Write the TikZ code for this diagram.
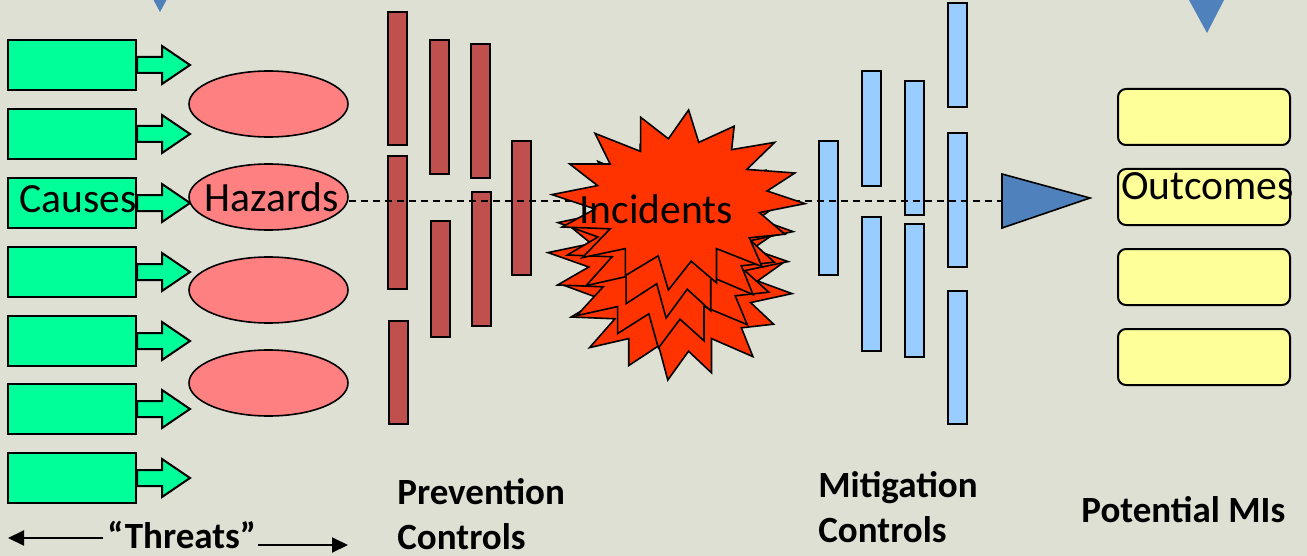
\documentclass[tikz,border=0pt]{standalone}
\usepackage{fontspec}
\setmainfont{Carlito}
\usetikzlibrary{shapes.geometric, arrows.meta, positioning}

\definecolor{bgcol}{RGB}{221,224,211}
\definecolor{threatgreen}{RGB}{0,255,153}
\definecolor{hazardpink}{RGB}{255,128,128}
\definecolor{prevred}{RGB}{192,80,77}
\definecolor{mitblue}{RGB}{153,204,255}
\definecolor{outyellow}{RGB}{255,255,153}
\definecolor{burstred}{RGB}{255,51,0}
\definecolor{pointblue}{RGB}{79,129,189}

\begin{document}
\begin{tikzpicture}[
    x=0.5pt, y=-0.5pt,
    threat/.style={draw, fill=threatgreen, minimum width=64pt, minimum height=25pt, inner sep=0pt, line width=1pt},
    threatarrow/.style={draw, fill=threatgreen, line width=1pt},
    hazard/.style={draw, fill=hazardpink, ellipse, minimum width=79.5pt, minimum height=33pt, inner sep=0pt, line width=0.8pt},
    pbar/.style={draw, fill=prevred, minimum width=9.5pt, inner sep=0pt, line width=1pt},
    mbar/.style={draw, fill=mitblue, minimum width=9.5pt, inner sep=0pt, line width=1pt},
    outcome/.style={draw, fill=outyellow, rounded corners=4pt, minimum width=86pt, minimum height=28pt, inner sep=0pt, line width=1pt},
    bigtext/.style={font=\fontsize{20.8}{25}\selectfont, inner sep=0pt},
    caption/.style={font=\bfseries\fontsize{18.5}{22.5}\selectfont, align=left, inner sep=0pt},
    span/.style={line width=1pt, -{Triangle[length=8pt,width=7.5pt]}},
    burst/.pic={
        \filldraw[fill=burstred, line width=0.8pt]
            (54,0) -- (58,18) -- (72,9) -- (71,22) -- (88,18) -- (77,33) -- (96,35) -- (85,45)
            -- (100,52) -- (82,57) -- (92,69) -- (78,71) -- (83,87) -- (65,77) -- (65,96) -- (55,84)
            -- (46,100) -- (42,81) -- (29,92) -- (29,77) -- (12,82) -- (23,66) -- (4,65) -- (17,55)
            -- (0,47) -- (18,42) -- (7,30) -- (23,30) -- (17,13) -- (35,23) -- (35,4) -- (46,16) -- cycle;
    }
]
    % Background
    \fill[bgcol] (0,0) rectangle (1307,556);
    \useasboundingbox (0,0) rectangle (1307,556);
    \fill[pointblue] (153.5,0) -- (166.5,0) -- (160,12) -- cycle;
    \fill[pointblue] (1189,0) -- (1224,0) -- (1207,33) -- cycle;

    % Threats
    \foreach \i/\y in {1/65,2/134,3/203,4/272,5/341,6/409,7/478} {
        \node[threat] (t\i) at (72,\y) {};
        \draw[threatarrow] (t\i.east) ++(0,-8) -- ++(25,0) -- ++(0,-11) -- ++(28,19)
            -- ++(-28,19) -- ++(0,-11) -- ++(-25,0) -- cycle;
    }
    \node[bigtext] (causes) at ([xshift=3pt,yshift=2pt]t3.center) {Causes};

    % Hazards
    \node[hazard] (h1) at (268.5,104) {};
    \node[hazard] (h2) at (268.5,197) {};
    \node[hazard] (h3) at (268.5,290) {};
    \node[hazard] (h4) at (268.5,383) {};
    \node[bigtext] (hazards) at ([xshift=1.5pt]h2.center) {Hazards};

    % Prevention controls
    \node[pbar, minimum height=66.5pt] (p1a) at (397.5,78.5) {};
    \node[pbar, minimum height=66.5pt] (p1b) at (397.5,222.5) {};
    \node[pbar, minimum height=51.5pt] (p1c) at (398,372.5) {};
    \node[pbar, minimum height=67pt] (p2a) at (439,107) {};
    \node[pbar, minimum height=58pt] (p2b) at (440,279) {};
    \node[pbar, minimum height=67pt] (p3a) at (480.5,111) {};
    \node[pbar, minimum height=67pt] (p3b) at (481.5,259) {};
    \node[pbar, minimum height=67pt] (p4) at (521.5,208) {};

    % Mitigation controls
    \node[mbar, minimum height=67pt] (m1) at (828.5,208) {};
    \node[mbar, minimum height=57.5pt] (m2a) at (871.5,128.5) {};
    \node[mbar, minimum height=67pt] (m2b) at (871.5,284) {};
    \node[mbar, minimum height=67pt] (m3a) at (914.5,148) {};
    \node[mbar, minimum height=66.5pt] (m3b) at (914.5,290.5) {};
    \node[mbar, minimum height=52pt] (m4a) at (957.5,55) {};
    \node[mbar, minimum height=67pt] (m4b) at (957.5,200) {};
    \node[mbar, minimum height=66.5pt] (m4c) at (957.5,357.5) {};

    % Outcomes
    \node[outcome] (o1) at (1204,117) {};
    \node[outcome, below=11pt of o1] (o2) {};
    \node[outcome, below=11pt of o2] (o3) {};
    \node[outcome, below=11pt of o3] (o4) {};
    \node[bigtext, anchor=base west] (outtext) at (1121,199) {Outcomes};

    % Scenario line
    \filldraw[fill=pointblue, line width=0.8pt] (1002,174) -- (1090,198) -- (1002,228) -- cycle;
    \coordinate (tritail) at (1002,201);
    \draw[line width=0.7pt, dash pattern=on 3.5pt off 2.5pt] ([yshift=-2pt]h2.east) -- (tritail);

    % Incidents
    \pic[xscale=2.3, yscale=1.8] at (562,200) {burst};
    \pic[xscale=2.4, yscale=1.8] at (548,168) {burst};
    \pic[xscale=2.35, yscale=1.8] at (558,138) {burst};
    \pic[xscale=2.53, yscale=1.8] at (552,110) {burst};
    \node[bigtext] (incidents) at (656,209) {Incidents};

    % Labels
    \node[caption, anchor=base west] (threats) at (107,548) {“Threats”};
    \coordinate (tleft) at (8,538);
    \coordinate (tright) at (348,545);
    \draw[span] ([xshift=-2pt]threats.west |- tleft) -- (tleft);
    \draw[span] ([xshift=1pt]threats.east |- tright) -- (tright);
    \node[caption, anchor=west] (prevlabel) at (397,514) {Prevention\\Controls};
    \node[caption, anchor=west] (mitlabel) at (818,507) {Mitigation\\Controls};
    \node[caption, anchor=base west] (milabel) at (1081,522) {Potential MIs};
\end{tikzpicture}
\end{document}
